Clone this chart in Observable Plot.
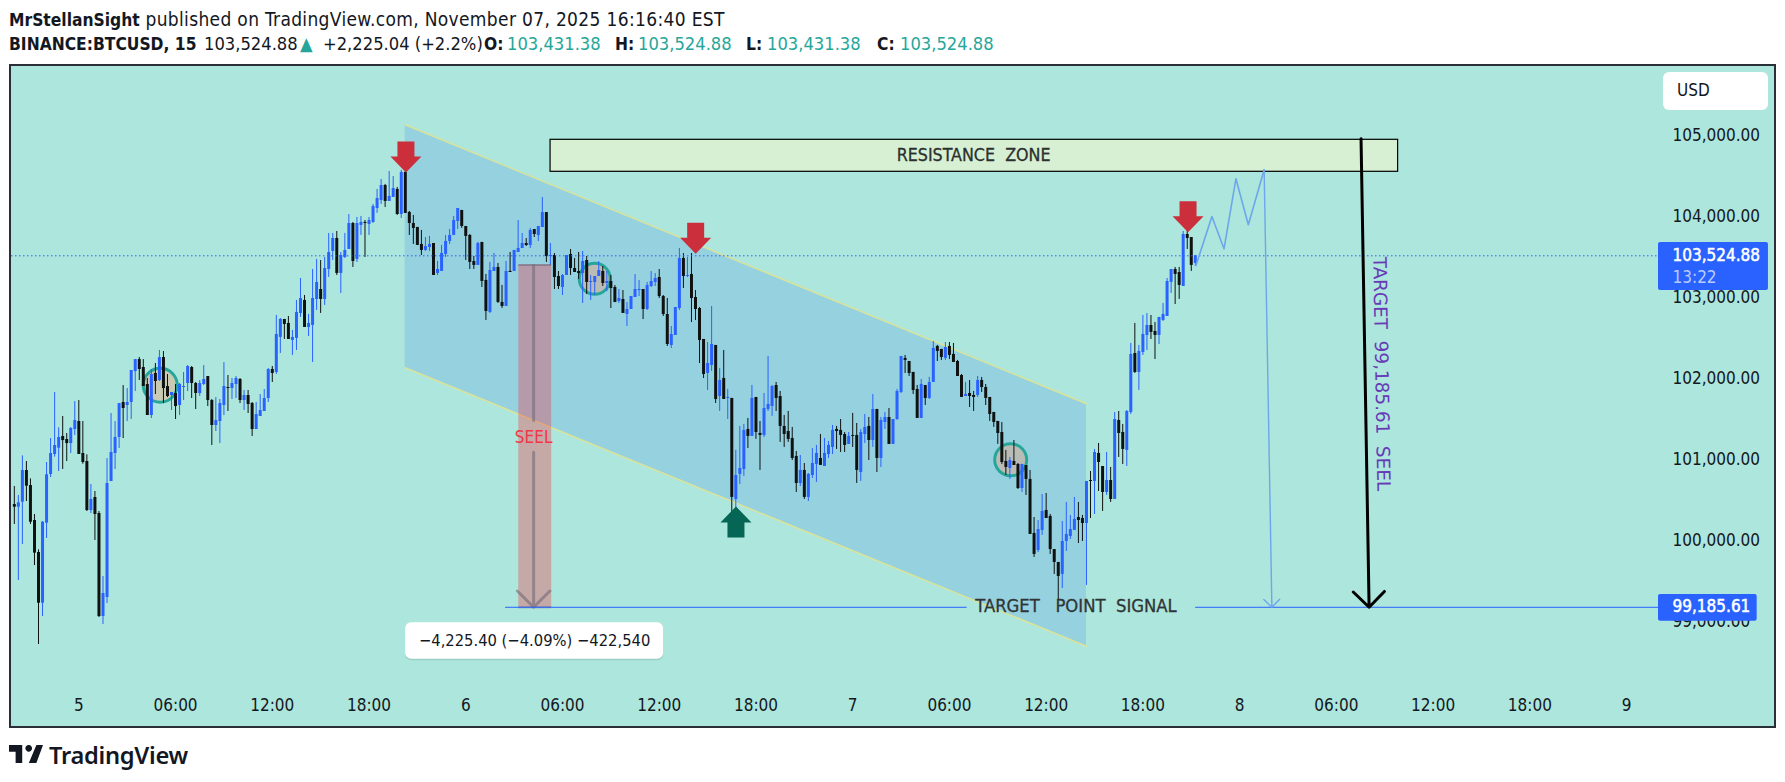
<!DOCTYPE html>
<html>
<head>
<meta charset="utf-8">
<script src="https://cdn.jsdelivr.net/npm/d3@7"></script>
<script src="https://cdn.jsdelivr.net/npm/@observablehq/plot@0.6"></script>
<style>
  html,body{margin:0;padding:0;background:#fff;width:1785px;height:782px;overflow:hidden;
    font-family:"DejaVu Sans Condensed","DejaVu Sans",sans-serif;color:#131722;}
  .hdr{position:absolute;left:9px;white-space:pre;font-size:19px;line-height:22px;}
  .hdr b{font-weight:700;font-size:17.3px}
  .l2 span,.l2 b{position:absolute;top:0;font-size:18.2px}
  .l2 b{font-size:17.3px}
  .teal{color:#26a69a}
  #frame{position:absolute;left:9px;top:64px;width:1763px;height:660px;border:2px solid #2a2e39;background:#ade6dc;}
  #frame svg{display:block;background:transparent;}
  #usd{position:absolute;left:1663px;top:72px;width:105px;height:38px;background:#fff;border-radius:6px;
    box-sizing:border-box;padding-left:14px;line-height:37px;font-size:17px;}
  #logo{position:absolute;left:9px;top:745px;}
  #brand{position:absolute;left:49px;top:741px;font-family:"Noto Sans",sans-serif;font-weight:600;font-size:23.7px;line-height:28px;letter-spacing:-.3px;color:#131722;}
</style>
</head>
<body>
<div class="hdr" style="top:8px;letter-spacing:.33px"><b style="letter-spacing:0">MrStellanSight</b> published on TradingView.com, November 07, 2025 16:16:40 EST</div>
<div class="hdr l2" style="top:33px;left:0"><b style="left:9px">BINANCE:BTCUSD, 15</b><span style="left:204px">103,524.88</span><span class="teal" style="left:300px">▲</span><span style="left:323px">+2,225.04 (+2.2%)</span><b style="left:484px">O:</b><span class="teal" style="left:507px">103,431.38</span><b style="left:615px">H:</b><span class="teal" style="left:638px">103,524.88</span><b style="left:746px">L:</b><span class="teal" style="left:767px">103,431.38</span><b style="left:877px">C:</b><span class="teal" style="left:900px">103,524.88</span></div>
<div id="frame"></div>
<div id="usd">USD</div>
<svg id="logo" width="34" height="18" viewBox="0 0 36 19"><path fill="#131722" d="M14 0H0v7h7v12h7zM29 19h-8L29 0h7zM20 7a3.6 3.6 0 1 0 0-7 3.6 3.6 0 0 0 0 7z"/></svg>
<div id="brand">TradingView</div>
<script>
// ---- 15-minute BTCUSD candles, first bar Nov 4 20:00 ----
const opens = [
100454,100421,100483,100874,100689,100257,99862,99236,100224,100825,
101072,101150,101294,101257,101207,101380,101479,101084,100985,100380,
100541,100343,99072,99306,100738,101084,101282,101714,101677,101714,
102096,102244,102146,101936,101553,102072,101985,102269,101911,101800,
101825,101677,101899,101948,102146,101948,101825,101936,102035,101738,
101430,101479,101677,101899,101886,101936,101998,101738,101800,101701,
101380,101541,101603,101763,102122,102085,102517,102739,102690,102480,
102505,102813,102974,102640,102665,102986,103109,102986,103356,103579,
103739,103307,103505,103603,103924,103480,103900,103937,103912,103937,
104109,104208,104393,104196,104245,104344,104035,104554,104060,103924,
103875,103665,103591,103628,103677,103307,103332,103542,103702,103776,
103949,104085,103887,103776,103455,103406,103690,103221,102826,103332,
103381,102949,102900,103332,103332,103566,103615,103677,103652,103850,
103775,103874,104059,103516,103529,103269,103134,103282,103541,103368,
103331,103306,103467,103195,103195,103269,103331,103183,103208,103134,
102961,102985,102800,102862,103010,103096,103109,102862,103146,103195,
103257,103022,102800,102418,102541,102874,103492,103269,103294,103010,
102874,102492,102072,102171,102418,101788,102011,101764,101764,100517,
100826,100887,101381,101295,101776,101332,101307,101628,101665,101924,
101788,101418,101356,101270,101048,100714,100875,100542,100813,100949,
101023,100924,101072,101159,101381,101369,101319,101196,101307,101307,
100850,101319,101418,101245,101628,101023,101467,101529,101196,101504,
101838,102258,102220,102085,101875,101517,101924,101764,101961,102406,
102369,102258,102406,102307,102220,102047,101788,101825,101801,101801,
101986,101899,101776,101591,101480,101344,100986,100899,100986,100949,
100652,100936,100764,100097,99887,100134,100381,100307,99899,99739,
99591,99998,100060,100134,100294,100282,100220,100751,100739,101085,
100924,100603,100751,100517,101492,101344,101122,101591,102319,102085,
102332,102542,102665,102591,102542,102727,102776,103196,103356,103319,
103146,103788,103751,103431.38];
const closes = [
100421,100475,100874,100681,100236,99854,99236,100236,100821,101084,
101183,101282,101244,101207,101393,101491,101072,100973,100380,100516,
100331,99072,99356,100714,101096,101282,101701,101640,101714,102109,
102244,102121,101911,101553,102059,101973,102269,101886,101788,101837,
101664,101936,101911,102158,101948,101825,101948,101998,101738,101430,
101491,101701,101911,101886,101948,102010,101738,101800,101689,101380,
101565,101615,101763,102121,102072,102554,102739,102677,102492,102517,
102826,102998,102640,102690,102998,103196,102986,103369,103566,103739,
103307,103529,103591,103924,103455,103924,103937,103924,103961,104134,
104233,104393,104196,104258,104356,104035,104554,104048,103924,103863,
103653,103591,103640,103665,103282,103356,103554,103702,103776,103961,
104109,103887,103764,103443,103406,103677,103208,102838,103344,103381,
102949,102900,103332,103319,103591,103616,103677,103652,103837,103788,
103887,104059,103516,103529,103257,103146,103282,103529,103368,103319,
103306,103454,103195,103208,103269,103343,103183,103208,103121,102948,
102998,102813,102862,103022,103109,103109,102862,103158,103208,103245,
103022,102800,102430,102553,102887,103492,103269,103282,102998,102862,
102479,102060,102196,102430,101751,101986,101751,101776,100542,100813,
100900,101369,101295,101764,101344,101307,101640,101690,101912,101764,
101418,101319,101258,101023,100714,100875,100542,100826,100961,101085,
100937,101085,101184,101369,101356,101307,101184,101295,101295,100875,
101344,101406,101245,101628,101023,101492,101529,101196,101504,101850,
102282,102233,102072,101862,101517,101937,101764,101961,102381,102344,
102270,102393,102295,102208,102035,101776,101813,101788,101776,101986,
101899,101764,101566,101467,101331,100973,100912,100998,100936,100652,
100949,100764,100085,99838,100146,100369,100282,99899,99739,99566,
99998,100085,100146,100270,100257,100220,100739,100739,101097,100973,
100603,100751,100517,101504,101331,101134,101603,102307,102085,102344,
102554,102665,102579,102542,102764,102801,103208,103356,103295,103159,
103788,103739,103406,103524.88];
const highs = [
100677,100566,101055,100985,100771,100331,99895,100245,100973,101269,
101837,101401,101541,101331,101405,101726,101738,101479,101068,100701,
100615,100368,99566,101022,101578,101479,101701,101923,101886,102109,
102244,102269,102244,102010,102121,102195,102356,102343,102059,101837,
101936,101948,102084,102170,102158,101961,101985,102170,102035,101751,
101775,101751,102207,102047,102010,102035,102010,101862,101862,101714,
101714,101812,101874,102133,102159,102789,102751,102739,102776,102603,
102974,103245,103035,102801,103356,103480,103467,103505,103801,103801,
103825,103566,103801,104035,103937,103998,104011,103961,103998,104159,
104344,104467,104406,104566,104504,104369,104579,104566,104072,104023,
103875,103838,103751,103764,103677,103455,103653,103776,103850,104011,
104109,104085,103887,103788,103517,103690,103690,103295,103443,103554,
103430,103159,103455,103566,103591,103961,103800,103738,103862,103850,
103887,104245,104059,103677,103553,103331,103294,103529,103603,103492,
103566,103578,103516,103282,103269,103454,103393,103331,103282,103158,
103109,103096,102948,103022,103294,103220,103109,103195,103331,103306,
103356,103035,102998,102652,102887,103615,103553,103504,103553,103096,
102887,102492,102455,102899,102418,102134,102356,101875,101764,101122,
101418,101443,101517,101924,101776,101480,101825,102282,101924,101961,
101850,101554,101603,101406,101109,101060,100961,100838,101146,101184,
101319,101270,101233,101430,101418,101504,101344,101344,101579,101455,
101381,101566,101529,101813,101628,101529,101591,101640,101504,101875,
102282,102295,102220,102085,101924,101998,101924,102023,102467,102418,
102369,102455,102455,102443,102233,102060,101961,101986,101850,102035,
102023,101936,101776,101591,101480,101467,101122,101035,101245,100961,
100949,100936,100875,100294,100257,100578,100591,100332,99899,99739,
100245,100480,100319,100541,100480,100319,100739,100862,101134,101208,
100924,101097,100912,101591,101603,101443,101615,102443,102690,102418,
102788,102813,102788,102702,102764,102937,103245,103356,103381,103381,
103825,103875,103751,103529];
const lows = [
100208,99516,99961,100491,100208,99701,98726,99072,100035,100788,
101039,100862,100887,100985,101084,101306,101072,100952,100368,100343,
100010,99059,98973,99232,100738,100887,101146,101269,101479,101504,
101849,101985,101911,101553,101516,101812,101973,101701,101775,101615,
101504,101553,101738,101849,101763,101627,101788,101923,101664,101183,
101356,101207,101553,101603,101751,101763,101701,101615,101578,101294,
101380,101541,101603,101714,101961,102060,102319,102492,102492,102295,
102356,102764,102640,102529,102208,102850,102813,102912,103258,103467,
103282,103060,103492,103603,103381,103443,103776,103505,103776,103924,
104048,104159,104122,104196,104245,104023,103986,104048,103776,103665,
103653,103529,103579,103579,103282,103282,103332,103505,103665,103776,
103850,103863,103467,103356,103356,103406,103134,102727,102813,103332,
102937,102875,102900,103319,103332,103566,103615,103640,103615,103751,
103701,103874,103442,103405,103109,103109,103035,103282,103282,103319,
103232,102936,103047,102973,103035,103269,103146,103084,102874,102948,
102936,102813,102652,102862,103010,103022,102738,102850,103134,103146,
102998,102776,102405,102380,102541,102850,103121,103257,102701,102726,
102195,102010,101862,102097,101702,101603,101751,101504,100270,100295,
100702,100801,101146,101295,101258,100875,101282,101603,101542,101603,
101221,101159,101221,100998,100603,100677,100517,100492,100776,100727,
100937,100924,101023,101072,101134,101097,101097,101196,101159,100714,
100739,101208,100998,101159,100850,100912,101381,101196,101196,101492,
101825,102072,102035,101813,101517,101517,101677,101751,101961,102220,
102233,102233,102245,102208,102035,101776,101788,101652,101603,101776,
101838,101677,101480,101406,101196,100949,100813,100764,100936,100640,
100603,100566,100085,99801,99862,100072,100282,99838,99591,99270,
99418,99875,100023,100134,99973,99998,99455,100282,100332,100615,
100369,100566,100480,100517,101035,100949,100924,101566,102072,101863,
102295,102356,102492,102245,102430,102714,102776,103060,102924,102986,
103146,103603,103332,103393];

// ---- axes ----
const priceTicks = [99000,100000,101000,102000,103000,104000,105000];
const timeTickHours = [0,6,12,18,24,30,36,42,48,54,60,66,72,78,84,90,96];
const timeTickLabels = ["5","06:00","12:00","18:00","6","06:00","12:00","18:00","7","06:00","12:00","18:00","8","06:00","12:00","18:00","9"];

// ---- levels ----
const lastPrice = 103524.88;
const targetPrice = 99185.61;
const measureTop = 103411.01;

// ---- drawn annotations, as [hours after Nov 5 00:00, price] ----
const channelTop = [[20.24,105142],[62.5,101698]];
const channelBottom = [[20.24,102142],[62.5,98705]];
const resistance = {h1:29.26,h2:81.83,p1:104562,p2:104957};
const sellArrows = [[20.29,104553],[38.26,103550],[68.8,103816]];
const buyArrows = [[40.76,100430]];
const circles = [[5.05,101927,17],[32.0,103241,15.5],[57.8,101006,16]];
const zigzag = [[69.29,103405],[70.28,104010],[71.03,103611],[71.77,104476],[72.54,103908],[73.52,104587]];
const zigzagDrop = [73.52,104587,74.0,targetPrice];
const bigArrow = [79.53,104969,80.03,targetPrice];

const t0 = Date.UTC(2025,10,5);
const hour = h => new Date(t0 + h*3600e3);
const candles = opens.map((o,i)=>({t:hour((i-16)/4),o,c:closes[i],h:highs[i],l:lows[i],up:closes[i]>=o}));
const BLUE="#2962ff", BLACK="#0f1211";
const pts = a => a.map(([h,p])=>({t:hour(h),p}));
const sym = pts => ({draw(ctx){pts.forEach(([x,y],i)=>i?ctx.lineTo(x,y):ctx.moveTo(x,y));ctx.closePath();}});
const arrowDown = sym([[0,0],[15.5,-16],[8.5,-16],[8.5,-31],[-8.5,-31],[-8.5,-16],[-15.5,-16]]);
const arrowUp = sym([[0,0],[15.5,16],[8.5,16],[8.5,31],[-8.5,31],[-8.5,16],[-15.5,16]]);
const cond = "'DejaVu Sans Condensed','DejaVu Sans',sans-serif";
const chart = Plot.plot({
  width:1763, height:660, marginLeft:0, marginRight:116, marginTop:0, marginBottom:40,
  style:{fontFamily:cond,fontSize:"17px",color:"#131722",background:"transparent",overflow:"visible"},
  x:{type:"utc",domain:[hour(-4.175),hour(97.98)]},
  y:{domain:[98207.6,105862]},
  r:{type:"identity"},
  marks:[
    Plot.axisX({ticks:timeTickHours.map(hour),tickSize:0,tickPadding:12,label:null,
      tickFormat:d=>timeTickLabels[timeTickHours.indexOf((d-t0)/3600e3)],fontSize:17}),
    Plot.axisY({anchor:"right",ticks:priceTicks,tickSize:0,tickPadding:14,label:null,dy:-1,
      tickFormat:d3.format(",.2f"),fontSize:17}),
    // channel
    Plot.areaY(channelTop.map((d,i)=>({t:hour(d[0]),hi:d[1],lo:channelBottom[i][1]})),{x:"t",y1:"lo",y2:"hi",fill:"#96d1e0"}),
    Plot.line(pts(channelTop),{x:"t",y:"p",stroke:"#d9e39a",strokeWidth:1.5}),
    Plot.line(pts(channelBottom),{x:"t",y:"p",stroke:"#d9e39a",strokeWidth:1.5}),
    // resistance zone
    Plot.rect([resistance],{x1:d=>hour(d.h1),x2:d=>hour(d.h2),y1:"p1",y2:"p2",fill:"#d7efd2",stroke:"#000",strokeWidth:1.2}),
    Plot.text(["RESISTANCE\u00a0\u00a0ZONE"],{x:hour(55.5),y:104760,text:d=>d,fontSize:17.7,fill:"#2b2f2f",stroke:"#2b2f2f",strokeWidth:0.3}),
    // circles
    Plot.dot(circles,{x:d=>hour(d[0]),y:d=>d[1],r:d=>d[2],fill:"rgba(240,160,120,.4)",stroke:"#26a69a",strokeWidth:3}),
    // measure box
    Plot.rect([0],{x1:hour(27.29),x2:hour(29.33),y1:targetPrice,y2:measureTop,fill:"rgba(242,54,69,.35)"}),
    // candles
    Plot.ruleX(candles,{x:"t",y1:"l",y2:"h",stroke:d=>d.up?BLUE:BLACK,strokeWidth:1}),
    Plot.ruleX(candles,{x:"t",y1:"o",y2:"c",stroke:d=>d.up?BLUE:BLACK,strokeWidth:3}),
    // measure tool lines
    Plot.ruleY([measureTop,targetPrice],{x1:hour(27.29),x2:hour(29.33),stroke:"rgba(110,100,115,.55)",strokeWidth:2}),
    Plot.ruleX([hour(28.21)],{y1:measureTop,y2:101471,stroke:"rgba(110,100,115,.55)",strokeWidth:3}),
    Plot.arrow([0],{x1:hour(28.21),x2:hour(28.21),y1:101100,y2:targetPrice,stroke:"rgba(110,100,115,.55)",strokeWidth:3,headAngle:90,headLength:11.5,bend:0}),
    Plot.text(["SEEL"],{x:hour(28.21),y:101285,text:d=>d,fill:"#f23645",fontSize:17}),
    // dotted last price, target line
    Plot.ruleY([lastPrice],{x1:hour(-4.175),x2:hour(97.98),stroke:BLUE,strokeWidth:1,strokeDasharray:"1.5,2.5"}),
    Plot.ruleY([targetPrice],{x1:hour(26.47),x2:hour(55.1),stroke:BLUE,strokeWidth:1}),
    Plot.ruleY([targetPrice],{x1:hour(69.27),x2:hour(97.98),stroke:BLUE,strokeWidth:1}),
    Plot.text(["TARGET\u00a0\u00a0\u00a0POINT\u00a0\u00a0SIGNAL"],{x:hour(61.85),y:targetPrice,dy:-1,text:d=>d,fontSize:18.3,fill:"#2f3434",stroke:"#2f3434",strokeWidth:0.3}),
    // arrows on top
    Plot.dot(sellArrows,{x:d=>hour(d[0]),y:d=>d[1],symbol:arrowDown,fill:"#cc2f3c"}),
    Plot.dot(buyArrows,{x:d=>hour(d[0]),y:d=>d[1],symbol:arrowUp,fill:"#056656"}),
    Plot.line(pts(zigzag),{x:"t",y:"p",stroke:"#6ea6ec",strokeWidth:1.6}),
    Plot.arrow([0],{x1:hour(zigzagDrop[0]),y1:zigzagDrop[1],x2:hour(zigzagDrop[2]),y2:zigzagDrop[3],stroke:"#6ea6ec",strokeWidth:1.4,headAngle:90,headLength:12,bend:0}),
    Plot.arrow([0],{x1:hour(bigArrow[0]),y1:bigArrow[1],x2:hour(bigArrow[2]),y2:bigArrow[3],stroke:"#000",strokeWidth:3,headAngle:90,headLength:11,bend:0}),
    Plot.text(["TARGET\u00a0\u00a099,185.61\u00a0\u00a0SEEL"],{x:hour(80.78),y:102066,text:d=>d,rotate:89,fontSize:18.4,fontFamily:"DejaVu Sans",fill:"#673ab7"}),
    // measure label
    Plot.rect([0],{x1:hour(20.27),x2:hour(36.27),y1:98545,y2:98994,fill:"rgba(0,0,0,.10)",rx:6,dy:1.5}),
    Plot.rect([0],{x1:hour(20.27),x2:hour(36.27),y1:98545,y2:98994,fill:"#fff",rx:6}),
    Plot.text(["\u22124,225.40 (\u22124.09%) \u2212422,540"],{x:hour(28.27),y:98775,text:d=>d,fontSize:16.4,fill:"#131722"}),
    // price labels
    Plot.rect([0],{x1:hour(97.98),x2:hour(104.8),y1:103097,y2:103689,fill:BLUE,rx:2}),
    Plot.text(["103,524.88"],{x:hour(98.85),y:lastPrice,dy:-0.5,text:d=>d,textAnchor:"start",fontSize:17,fill:"#fff",stroke:"#fff",strokeWidth:0.5}),
    Plot.text(["13:22"],{x:hour(98.85),y:103260,text:d=>d,textAnchor:"start",fontSize:17,fill:"#b9caff"}),
    Plot.rect([0],{x1:hour(97.98),x2:hour(104.1),y1:99014,y2:99343,fill:BLUE,rx:2}),
    Plot.text(["99,185.61"],{x:hour(98.85),y:targetPrice,dy:-0.5,text:d=>d,textAnchor:"start",fontSize:17,fill:"#fff",stroke:"#fff",strokeWidth:0.5})
  ]
});
document.getElementById("frame").appendChild(chart);
</script>
</body>
</html>
